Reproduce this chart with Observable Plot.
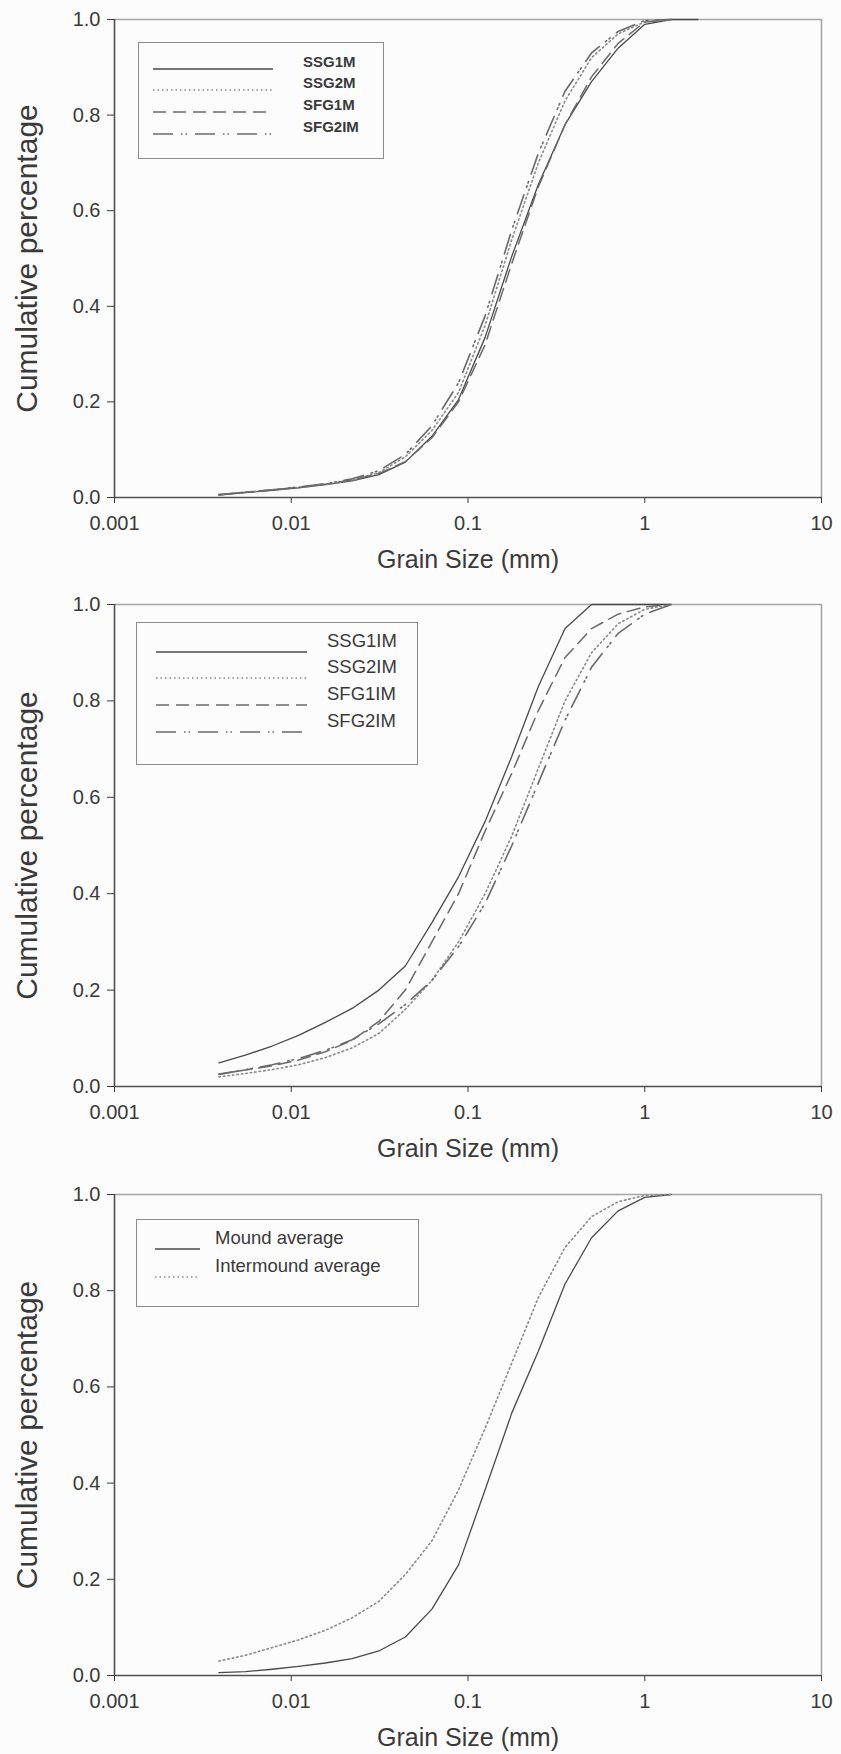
<!DOCTYPE html>
<html><head><meta charset="utf-8">
<script src="https://cdn.jsdelivr.net/npm/d3@7"></script>
<script src="https://cdn.jsdelivr.net/npm/@observablehq/plot@0.6"></script>
<style>
body{margin:0;background:#fcfcfc;font-family:"Liberation Sans",Arial,sans-serif;}
#page{position:relative;width:841px;height:1754px;overflow:hidden;}
.panel{position:absolute;left:0;}
.panel svg{display:block;}
.legend{position:absolute;border:1.5px solid #8c8c8c;box-sizing:border-box;}
.row{position:absolute;left:0;display:flex;align-items:center;height:0;}
.row svg{display:block;}
.row span{position:absolute;white-space:nowrap;color:#3a3a3a;transform:translateY(-50%);}
</style></head><body><div id="page"></div>
<script>
// Grain sizes (mm), half-phi intervals
const grainSizes = [0.0039, 0.0055, 0.0078, 0.011, 0.0156, 0.0221, 0.0313, 0.0442, 0.0625, 0.0884, 0.125, 0.177, 0.25, 0.354, 0.5, 0.707, 1, 1.41, 2];

// Axis ticks
const xTicks = [0.001, 0.01, 0.1, 1, 10];
const xTickLabels = ["0.001", "0.01", "0.1", "1", "10"];
const yTicks = [0, 0.2, 0.4, 0.6, 0.8, 1.0];
const yTickLabels = ["0.0", "0.2", "0.4", "0.6", "0.8", "1.0"];

// Panel 1: mound samples
const p1Names = ["SSG1M", "SSG2M", "SFG1M", "SFG2IM"];
const p1_SSG1M  = [0.005, 0.010, 0.015, 0.020, 0.027, 0.035, 0.048, 0.074, 0.128, 0.205, 0.335, 0.505, 0.655, 0.780, 0.870, 0.940, 0.990, 1.0, 1.0];
const p1_SSG2M  = [0.006, 0.011, 0.016, 0.021, 0.027, 0.036, 0.052, 0.085, 0.140, 0.220, 0.360, 0.540, 0.700, 0.830, 0.920, 0.970, 0.995, 1.0];
const p1_SFG1M  = [0.006, 0.011, 0.016, 0.021, 0.028, 0.037, 0.050, 0.075, 0.125, 0.200, 0.320, 0.490, 0.650, 0.780, 0.880, 0.950, 0.995, 1.0];
const p1_SFG2IM = [0.006, 0.011, 0.016, 0.022, 0.029, 0.039, 0.056, 0.090, 0.150, 0.240, 0.380, 0.560, 0.720, 0.850, 0.930, 0.975, 0.998, 1.0];

// Panel 2: intermound samples
const p2Names = ["SSG1IM", "SSG2IM", "SFG1IM", "SFG2IM"];
const p2_SSG1IM = [0.049, 0.065, 0.084, 0.106, 0.133, 0.162, 0.200, 0.250, 0.340, 0.435, 0.550, 0.685, 0.830, 0.950, 1.0, 1.0, 1.0, 1.0];
const p2_SSG2IM = [0.020, 0.027, 0.035, 0.045, 0.060, 0.080, 0.110, 0.160, 0.220, 0.300, 0.400, 0.520, 0.660, 0.800, 0.900, 0.960, 0.990, 1.0];
const p2_SFG1IM = [0.026, 0.034, 0.043, 0.055, 0.072, 0.096, 0.135, 0.200, 0.300, 0.400, 0.530, 0.650, 0.780, 0.890, 0.950, 0.980, 0.995, 1.0];
const p2_SFG2IM = [0.025, 0.035, 0.045, 0.058, 0.075, 0.097, 0.130, 0.170, 0.220, 0.290, 0.380, 0.500, 0.630, 0.760, 0.870, 0.940, 0.980, 1.0];

// Panel 3: averages
const p3Names = ["Mound average", "Intermound average"];
const p3_mound      = [0.006, 0.008, 0.013, 0.019, 0.026, 0.035, 0.051, 0.080, 0.138, 0.230, 0.386, 0.546, 0.674, 0.814, 0.910, 0.966, 0.994, 1.0];
const p3_intermound = [0.030, 0.042, 0.058, 0.074, 0.094, 0.120, 0.154, 0.210, 0.280, 0.386, 0.514, 0.650, 0.786, 0.890, 0.954, 0.985, 0.998, 1.0];

// Line styles
const styles = {
  solid:  {dash: null, width: 1.3, color: "#4a4a4a"},
  dotted: {dash: "1.5,3", width: 1.6, color: "#8a8a8a"},
  dashed: {dash: "13,7", width: 1.5, color: "#6a6a6a"},
  dashdot:{dash: "20,8,1.5,3,1.5,8", width: 1.6, color: "#6a6a6a"}
};

const fontFam = "'Liberation Sans', Arial, sans-serif";

function toRows(values) {
  return values.map((v, i) => ({size: grainSizes[i], cum: v}));
}

function makePlot(series, height, marginTop, marginBottom) {
  const lines = series.map(s => {
    const st = styles[s.style];
    return Plot.line(toRows(s.values), {
      x: "size", y: "cum", stroke: st.color, strokeWidth: st.width,
      strokeDasharray: st.dash, curve: "linear"
    });
  });
  return Plot.plot({
    width: 841, height, marginTop, marginBottom, marginLeft: 114, marginRight: 20,
    style: {background: "transparent", fontFamily: fontFam, overflow: "visible"},
    x: {type: "log", domain: [0.001, 10]},
    y: {domain: [0, 1]},
    marks: [
      Plot.ruleY([1], {stroke: "#a5a5a5", strokeWidth: 1.6}),
      Plot.ruleX([10], {stroke: "#a5a5a5", strokeWidth: 1.6}),
      ...lines,
      Plot.axisX({ticks: xTicks, tickFormat: d => xTickLabels[xTicks.indexOf(d)], tickSize: 6, tickPadding: 12, fontSize: 20, color: "#3a3a3a", label: null}),
      Plot.axisY({ticks: yTicks, tickFormat: d => yTickLabels[yTicks.indexOf(d)], tickSize: 7, tickPadding: 7, fontSize: 20, color: "#3a3a3a", label: null}),
      Plot.ruleX([0.001], {stroke: "#505050", strokeWidth: 1.6}),
      Plot.ruleY([0], {stroke: "#505050", strokeWidth: 1.6}),
      Plot.text(["Grain Size (mm)"], {text: d => d, frameAnchor: "bottom", textAnchor: "middle", lineAnchor: "middle", dy: 62, fontSize: 25, fill: "#3a3a3a"}),
      Plot.text(["Cumulative percentage"], {text: d => d, frameAnchor: "left", textAnchor: "middle", lineAnchor: "middle", dx: -87, rotate: -90, fontSize: 30, fill: "#3a3a3a"})
    ]
  });
}

function legendSample(style, len) {
  const st = styles[style];
  const ns = "http://www.w3.org/2000/svg";
  const svg = document.createElementNS(ns, "svg");
  svg.setAttribute("width", len); svg.setAttribute("height", 6);
  const l = document.createElementNS(ns, "line");
  l.setAttribute("x1", 0); l.setAttribute("x2", len); l.setAttribute("y1", 3); l.setAttribute("y2", 3);
  l.setAttribute("stroke", st.color); l.setAttribute("stroke-width", st.width);
  if (st.dash) l.setAttribute("stroke-dasharray", st.dash);
  svg.appendChild(l);
  return svg;
}

function makeLegend(cfg) {
  const box = document.createElement("div");
  box.className = "legend";
  Object.assign(box.style, {left: cfg.left + "px", top: cfg.top + "px", width: cfg.width + "px", height: cfg.height + "px"});
  cfg.items.forEach((it, i) => {
    const row = document.createElement("div");
    row.className = "row";
    row.style.top = cfg.rows[i] + "px";
    const sv = legendSample(it.style, cfg.lineLen);
    sv.style.position = "absolute"; sv.style.left = cfg.lineX + "px"; sv.style.top = "-3px";
    row.appendChild(sv);
    const sp = document.createElement("span");
    sp.textContent = it.name;
    sp.style.left = cfg.textX + "px";
    sp.style.fontSize = cfg.fontSize + "px";
    sp.style.fontWeight = cfg.bold ? "bold" : "normal";
    row.appendChild(sp);
    box.appendChild(row);
  });
  return box;
}

const page = document.getElementById("page");

const panels = [
  {top: 0, height: 580, mt: 19, mb: 83,
   series: [
     {name: p1Names[0], values: p1_SSG1M, style: "solid"},
     {name: p1Names[1], values: p1_SSG2M, style: "dotted"},
     {name: p1Names[2], values: p1_SFG1M, style: "dashed"},
     {name: p1Names[3], values: p1_SFG2IM, style: "dashdot"}],
   legend: {left: 138, top: 42, width: 246, height: 117, rows: [26, 47, 69, 91], lineX: 14, lineLen: 120, textX: 164, fontSize: 15, bold: true}},
  {top: 580, height: 590, mt: 24, mb: 84,
   series: [
     {name: p2Names[0], values: p2_SSG1IM, style: "solid"},
     {name: p2Names[1], values: p2_SSG2IM, style: "dotted"},
     {name: p2Names[2], values: p2_SFG1IM, style: "dashed"},
     {name: p2Names[3], values: p2_SFG2IM, style: "dashdot"}],
   legend: {left: 136, top: 622, width: 282, height: 143, rows: [29, 55, 82, 109], lineX: 19, lineLen: 151, textX: 190, fontSize: 18.5, bold: false}},
  {top: 1170, height: 584, mt: 24, mb: 79,
   series: [
     {name: p3Names[0], values: p3_mound, style: "solid"},
     {name: p3Names[1], values: p3_intermound, style: "dotted"}],
   legend: {left: 136, top: 1219, width: 283, height: 88, rows: [29, 57], lineX: 18, lineLen: 45, textX: 78, fontSize: 18.5, bold: false}}
];

panels.forEach(p => {
  const wrap = document.createElement("div");
  wrap.className = "panel";
  wrap.style.top = p.top + "px";
  wrap.appendChild(makePlot(p.series, p.height, p.mt, p.mb));
  page.appendChild(wrap);
  p.legend.items = p.series.map(s => ({name: s.name, style: s.style}));
  page.appendChild(makeLegend(p.legend));
});
</script>
</body></html>
